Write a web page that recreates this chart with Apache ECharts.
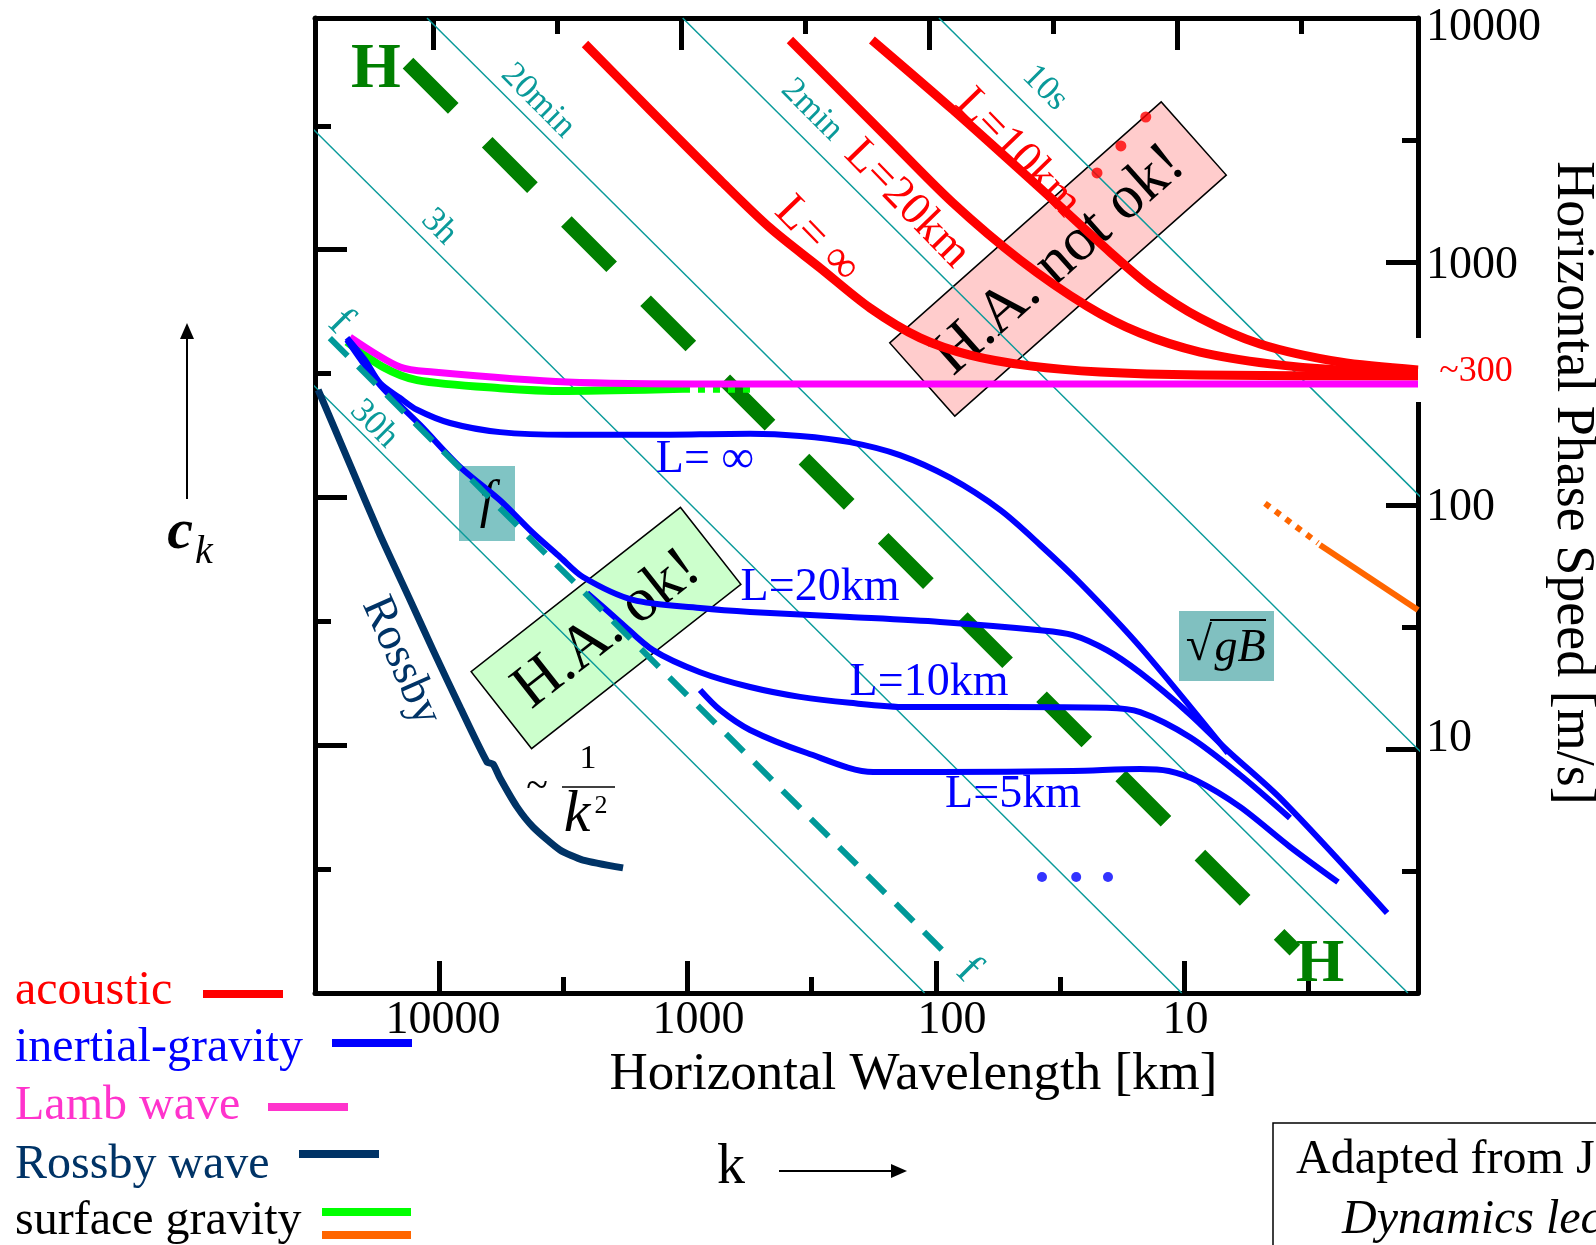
<!DOCTYPE html>
<html><head><meta charset="utf-8">
<script src="https://cdn.jsdelivr.net/npm/echarts@6/dist/echarts.min.js"></script>
<style>html,body{margin:0;padding:0;background:#fff;}#c{width:1596px;height:1245px;}</style>
</head><body><div id="c"></div>
<script>
// ---------- DATA (wavelength [km], phase speed [m/s]) ----------
const wavelengthTicks = [10, 100, 1000, 10000];
const speedTicks = [10, 100, 1000, 10000];

// constant-period reference lines (two end points each)
const period20min = [[11040, 10000], [1.10, 1]];
const period2min  = [[1000, 10000], [0.1, 1]];
const period10s   = [[90, 10000], [0.009, 1]];
const period3h    = [[92000, 10000], [9.2, 1]];
const period30h   = [[1030000, 10000], [103, 1]];

// hydrostatic limit (H ... H) and inertial limit (f ... f)
const hydrostaticLine = [[13200, 6530], [3.18, 1.50]];
const inertialLine = [[27500, 486], [86.7, 1.49]];

// acoustic waves
const acousticLinf = [[2503,7823],[1359,4194],[704,2165],[440,1376],[275,943],[172,646],[107.5,487],[67.2,414],[38.3,374],[19.8,353],[7.75,343],[1.0,340]];
const acousticL20 = [[365,8123],[147,3250],[78.9,1742],[42.0,1017],[22.4,658],[13.6,510],[7.75,426],[4.01,381],[2.08,360],[1.0,353]];
const acousticL10 = [[169,8123],[78.9,4194],[30.8,1792],[18.05,1096],[12.4,795],[7.75,588],[4.41,460],[2.08,388],[1.0,360]];
const acousticDots = [[20.4,2313],[16.3,2985],[12.9,3925]];

// Lamb wave
const lambWave = [[22760,491],[14230,370],[10430,353],[2964,321],[704,315],[1.0,315]];

// surface gravity
const surfaceGravity = [[23420,469],[16700,370],[12130,327],[5563,303],[2964,295],[997,301]];
const surfaceGravityDotted = [[997,301],[507,301]];
const surfaceGravityShallow = [[2.51,68.9],[1.0,37.3]];
const surfaceGravityShallowDotted = [[4.21,102],[2.56,70.2]];

// inertial-gravity waves
const igLinf = [[23420,487],[19770,395],[17170,318],[14230,276],[12130,247],[8897,218],[5563,200],[2964,195],[1359,195],[531,197],[332,193],[208,182],[130,161],[81.2,130],[50.7,95.9],[34.8,68.9],[23.9,48.1],[13.6,26.3],[5.96,9.65]];
const igL20 = [[23420,478],[17170,312],[11790,214],[8100,144],[5563,105],[4080,77.1],[3166,61.5],[2551,50.9],[1594,41.0],[849,38.0],[531,36.6],[208,34.9],[89.1,33.3],[34.8,30.8],[25.6,29.4],[18.6,25.5],[13.6,20.6],[8.51,13.9],[5.96,9.84],[3.59,6.20],[1.337,2.13]];
const igL10 = [[2456,43.8],[1802,33.3],[1321,25.5],[849,20.7],[531,18.0],[332,16.4],[208,15.5],[122,14.9],[50.7,14.9],[18.6,14.8],[13.6,14.2],[8.51,11.2],[5.32,7.84],[3.33,5.22]];
const igL5 = [[849,17.5],[704,14.5],[531,12.0],[311,9.65],[167,8.07],[89.1,8.07],[25.6,8.14],[13.6,8.30],[10.4,8.14],[7.93,7.40],[5.32,5.80],[3.33,3.98],[2.12,2.85]];
const igDots = [[34.2,2.99],[24.8,2.99],[18.4,2.99]];

// Rossby wave
const rossbyWave = [[30700,298],[22760,147],[17170,75.7],[12950,41.0],[10430,25.5],[8100,14.9],[6284,8.87],[5939,8.70],[5563,7.62],[4742,5.80],[4080,4.80],[3166,3.86],[2551,3.51],[1751,3.26]];

// ---------- BUILD ----------
const FONT = '"Liberation Serif", "Times New Roman", Times, serif';
const toLog = a => a.map(p => [Math.log10(p[0]), Math.log10(p[1])]);
const DX = 4, DY = 4; // hidden data axes carry the series

function line(name, data, color, width, extra) {
  return Object.assign({
    type: 'line', name: name, data: toLog(data), xAxisIndex: DX, yAxisIndex: DY,
    showSymbol: false, symbol: 'none', smooth: 0.3, clip: true, silent: true, animation: false,
    lineStyle: { color: color, width: width, cap: 'butt', join: 'round' }, z: 2
  }, extra || {});
}
function dashed(name, data, color, width, dash, z) {
  return line(name, data, color, width, { smooth: false, z: z || 2, lineStyle: { color: color, width: width, type: dash, cap: 'butt' } });
}
const TEAL = '#0a9a9a';
const series = [
  line('period', period20min, TEAL, 1.5, { smooth: false, z: 1 }),
  line('period', period2min, TEAL, 1.5, { smooth: false, z: 1 }),
  line('period', period10s, TEAL, 1.5, { smooth: false, z: 1 }),
  line('period', period3h, TEAL, 1.5, { smooth: false, z: 1 }),
  line('period', period30h, TEAL, 1.5, { smooth: false, z: 1 }),
  dashed('hydrostatic limit', hydrostaticLine, '#007f00', 15, [64, 48]),
  line('acoustic', acousticLinf, '#ff0000', 9),
  line('acoustic', acousticL20, '#ff0000', 9),
  line('acoustic', acousticL10, '#ff0000', 9),
  line('surface gravity', surfaceGravity, '#00ff00', 8),
  dashed('surface gravity', surfaceGravityDotted, '#00ff00', 8, [7, 8]),
  line('Lamb wave', lambWave, '#ff00ff', 7),
  line('inertial-gravity', igLinf, '#0000ff', 6),
  line('inertial-gravity', igL20, '#0000ff', 6),
  line('inertial-gravity', igL10, '#0000ff', 6),
  line('inertial-gravity', igL5, '#0000ff', 6),
  dashed('inertial limit', inertialLine, '#009999', 6, [25, 15], 3),
  line('Rossby wave', rossbyWave, '#003366', 7, { smooth: 0.2 }),
  line('surface gravity', surfaceGravityShallow, '#ff6600', 6, { smooth: false }),
  dashed('surface gravity', surfaceGravityShallowDotted, '#ff6600', 6, [6, 7]),
  { type: 'scatter', name: 'acoustic', data: toLog(acousticDots), xAxisIndex: DX, yAxisIndex: DY, symbolSize: 11, itemStyle: { color: '#ff0000' }, silent: true, z: 3 },
  { type: 'scatter', name: 'inertial-gravity', data: toLog(igDots), xAxisIndex: DX, yAxisIndex: DY, symbolSize: 10, itemStyle: { color: '#0000ff' }, silent: true, z: 3 }
];

// frame axes (tick marks follow the original drawing's slightly uneven spacing)
function frameAxis(kind, pos, min, max, split, len, main, interval) {
  const a = {
    type: 'value', position: pos, min: min, max: max,
    axisLine: { show: main, onZero: false, lineStyle: { color: '#000', width: 5 } },
    axisTick: { show: true, inside: true, length: len, lineStyle: { color: '#000', width: 5 } },
    axisLabel: { show: false }, splitLine: { show: false }
  };
  if (interval) a.interval = interval; else a.splitNumber = split;
  if (kind === 'x') a.inverse = true;
  return a;
}
const lab = { fontSize: 46, fontFamily: FONT, color: '#000' };
const XB = [0.06, 4.499], XT = [0.027, 4.479], YL = [0, 3.935];
const xBottom = frameAxis('x', 'bottom', XB[0], XB[1], 4, 32, true);
xBottom.axisLabel = {
  show: true, margin: 5, showMinLabel: true, showMaxLabel: true,
  formatter: v => { const r = Math.round(v); const t = Math.pow(10, r); return (Math.abs(v - r) < 1e-6 && wavelengthTicks.indexOf(t) >= 0) ? '{p' + r + '|' + t + '}' : ''; },
  rich: {
    p4: Object.assign({ padding: [0, 0, 0, 8] }, lab), p3: Object.assign({ padding: [0, 0, 0, 22] }, lab),
    p2: Object.assign({ padding: [0, 0, 0, 32] }, lab), p1: Object.assign({ padding: [0, 0, 0, 2] }, lab)
  }
};
xBottom.name = 'Horizontal Wavelength [km]';
xBottom.nameLocation = 'middle';
xBottom.nameGap = 49;
xBottom.nameTextStyle = { fontSize: 53, fontFamily: FONT, color: '#000', padding: [0, 0, 0, 94] };

const yRight = { type: 'value', position: 'right', min: 0, max: 4, interval: 1,
  axisLine: { show: true, onZero: false, lineStyle: { color: '#000', width: 5 } },
  axisTick: { show: true, inside: true, length: 32, lineStyle: { color: '#000', width: 5 } },
  splitLine: { show: false },
  axisLabel: { show: true, margin: 8, showMinLabel: true, showMaxLabel: true,
    formatter: v => { const r = Math.round(v); const t = Math.pow(10, r); return (Math.abs(v - r) < 1e-6 && speedTicks.indexOf(t) >= 0) ? '{r' + r + '|' + t + '}' : ''; },
    rich: {
      r4: Object.assign({ padding: [19, 0, 0, 0] }, lab), r3: Object.assign({ padding: [8, 0, 0, 0] }, lab),
      r2: Object.assign({ padding: [5, 0, 0, 0] }, lab), r1: Object.assign({ padding: [0, 0, 20, 0] }, lab)
    } } };
const yRightMinor = { type: 'value', position: 'right', min: 0, max: 4, interval: 0.5,
  axisLine: { show: false, onZero: false }, axisLabel: { show: false }, splitLine: { show: false },
  axisTick: { show: true, inside: true, length: 16, lineStyle: { color: '#000', width: 5 } } };

// ---------- ANNOTATIONS ----------
const G = [];
function txt(x, y, text, size, color, o) {
  o = o || {};
  G.push({ type: 'text', x: x, y: y, rotation: o.rot || 0, z: (o.z === undefined ? 10 : o.z),
    style: { text: text, fill: color, fontSize: size, fontFamily: FONT,
      fontStyle: o.italic ? 'italic' : 'normal', fontWeight: o.bold ? 'bold' : 'normal',
      align: o.align || 'center', verticalAlign: o.va || 'middle' } });
}
function rect(x, y, w, h, fill, z, stroke) {
  G.push({ type: 'rect', z: z, shape: { x: x, y: y, width: w, height: h }, style: { fill: fill, stroke: stroke || null, lineWidth: stroke ? 1.5 : 0 } });
}
function box(cx, cy, w, h, rot, fill, label, size) {
  G.push({ type: 'group', x: cx, y: cy, rotation: rot, children: [
    { type: 'rect', z: 0, shape: { x: -w / 2, y: -h / 2, width: w, height: h }, style: { fill: fill, stroke: '#000', lineWidth: 1.5 } },
    { type: 'text', z: 0, x: 0, y: 2, style: { text: label, fill: '#000', fontSize: size, fontFamily: FONT, align: 'center', verticalAlign: 'middle' } }
  ] });
}

box(1058, 259, 363, 98, 0.726, '#ffcccc', 'H.A. not ok!', 62);
box(606, 628, 266, 98, 0.665, '#ccffcc', 'H.A. ok!', 62);
rect(459, 466, 56, 75, '#80c4c4', 0);
txt(487, 503, 'f', 52, '#000', { italic: true, z: 0 });
rect(1179, 611, 95, 70, '#80c0c0', 0);
txt(1199, 647, '\u221A', 48, '#000', { z: 0 });
G.push({ type: 'line', z: 0, shape: { x1: 1210, y1: 620, x2: 1266, y2: 620 }, style: { stroke: '#000', lineWidth: 2 } });
txt(1240, 649, 'gB', 46, '#000', { italic: true, z: 0 });

rect(1414, 338, 12, 64, '#ffffff', 1);
txt(1476, 372, '~300', 36, '#ff0000');

const RT = -Math.PI / 4;
txt(538, 101, '20min', 35, TEAL, { rot: RT });
txt(812, 110, '2min', 35, TEAL, { rot: RT });
txt(1045, 88, '10s', 35, TEAL, { rot: RT });
txt(439, 227, '3h', 35, TEAL, { rot: RT });
txt(374, 424, '30h', 35, TEAL, { rot: RT });
txt(340, 322, 'f', 44, TEAL, { rot: RT });
txt(968, 970, 'f', 44, TEAL, { rot: RT });

txt(376, 70, 'H', 64, '#007f00', { bold: true });
txt(1320, 965, 'H', 62, '#007f00', { bold: true });

txt(817, 240, 'L= \u221E', 47, '#ff0000', { rot: -0.80 });
txt(907, 204, 'L=20km', 46, '#ff0000', { rot: -0.80 });
txt(1018, 153, 'L=10km', 46, '#ff0000', { rot: -0.80 });

txt(705, 460, 'L= \u221E', 46, '#0000ff');
txt(820, 588, 'L=20km', 46, '#0000ff');
txt(929, 683, 'L=10km', 46, '#0000ff');
txt(1013, 795, 'L=5km', 46, '#0000ff');

txt(401, 661, 'Rossby', 46, '#003366', { rot: -1.15 });
txt(537, 787, '~', 40, '#000');
txt(588, 759, '1', 34, '#000');
G.push({ type: 'line', z: 10, shape: { x1: 562, y1: 787, x2: 615, y2: 787 }, style: { stroke: '#000', lineWidth: 1.5 } });
txt(577, 815, 'k', 60, '#000', { italic: true });
txt(601, 806, '2', 26, '#000');

txt(1572, 483, 'Horizontal Phase Speed [m/s]', 54, '#000', { rot: -Math.PI / 2 });

G.push({ type: 'line', z: 10, shape: { x1: 187, y1: 499, x2: 187, y2: 336 }, style: { stroke: '#000', lineWidth: 2 } });
G.push({ type: 'polygon', z: 10, shape: { points: [[187, 323], [180, 339], [194, 339]] }, style: { fill: '#000' } });
txt(180, 533, 'c', 58, '#000', { italic: true, bold: true });
txt(204, 552, 'k', 40, '#000', { italic: true });

txt(731, 1168, 'k', 56, '#000');
G.push({ type: 'line', z: 10, shape: { x1: 779, y1: 1171, x2: 893, y2: 1171 }, style: { stroke: '#000', lineWidth: 2 } });
G.push({ type: 'polygon', z: 10, shape: { points: [[907, 1171], [891, 1164], [891, 1178]] }, style: { fill: '#000' } });

const legendItems = [
  ['acoustic', '#ff0000', 991, [[203, 990, 80, '#ff0000']]],
  ['inertial-gravity', '#0000ff', 1048, [[332, 1039, 80, '#0000ff']]],
  ['Lamb wave', '#ff33cc', 1106, [[268, 1103, 80, '#ff33cc']]],
  ['Rossby wave', '#003366', 1165, [[299, 1150, 80, '#003366']]],
  ['surface gravity', '#000000', 1221, [[322, 1208, 89, '#00ff00'], [322, 1231, 89, '#ff6600']]]
];
legendItems.forEach(it => {
  txt(15, it[2], it[0], 48, it[1], { align: 'left' });
  it[3].forEach(b => rect(b[0], b[1], b[2], 8, b[3], 10));
});

rect(1273, 1123, 400, 200, '#ffffff', 10, '#000');
txt(1296, 1160, 'Adapted from J. Thuburn', 48, '#000', { align: 'left' });
txt(1342, 1220, 'Dynamics lecture notes', 48, '#000', { align: 'left', italic: true });

const chart = echarts.init(document.getElementById('c'), null, { renderer: 'canvas' });
chart.setOption({
  animation: false,
  backgroundColor: '#ffffff',
  grid: { left: 315, top: 18, width: 1103, height: 975, containLabel: false },
  xAxis: [
    xBottom,
    frameAxis('x', 'bottom', XB[0], XB[1], 9, 16, false),
    frameAxis('x', 'top', XT[0], XT[1], 4, 32, true),
    frameAxis('x', 'top', XT[0], XT[1], 9, 16, false),
    { type: 'value', show: false, min: 0, max: 4.5, inverse: true, position: 'bottom' }
  ],
  yAxis: [
    frameAxis('y', 'left', YL[0], YL[1], 4, 32, true, 1),
    frameAxis('y', 'left', YL[0], YL[1], 8, 16, false, 0.5),
    yRight,
    yRightMinor,
    { type: 'value', show: false, min: 0, max: 4, position: 'left' }
  ],
  series: series,
  graphic: { elements: G }
});
</script></body></html>
